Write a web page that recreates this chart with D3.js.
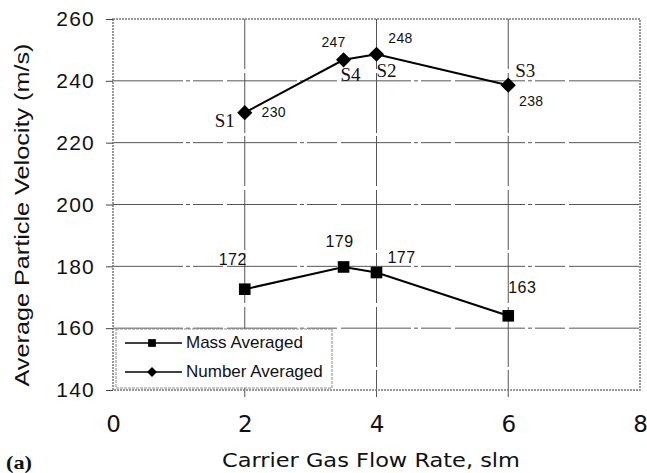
<!DOCTYPE html>
<html lang="en">
<head>
  <meta charset="UTF-8">
  <title>Average Particle Velocity</title>
  <script src="https://d3js.org/d3.v7.min.js"></script>
  <style>
    html, body {
      margin: 0;
      padding: 0;
      background: #fff;
      overflow: hidden;
    }
    svg {
      display: block;
    }
  </style>
</head>
<body>
<svg id="chart" width="647" height="473"></svg>

<script>
  // data
  const flowRates = [2, 3.5, 4, 6];
  const massAveraged = [172.6, 179.8, 178, 164];
  const massLabels = ["172", "179", "177", "163"];
  const numberAveraged = [229.7, 246.8, 248.6, 238.6];
  const numberLabels = ["230", "247", "248", "238"];
  const sampleNames = ["S1", "S4", "S2", "S3"];
  const xTicks = [0, 2, 4, 6, 8];
  const yTicks = [140, 160, 180, 200, 220, 240, 260];

  const svg = d3.select("#chart");
  const plotLeft = 113, plotRight = 640, plotTop = 19, plotBottom = 390;

  const x = d3.scaleLinear().domain([0, 8]).range([plotLeft, plotRight]);
  const y = d3.scaleLinear().domain([140, 260]).range([plotBottom, plotTop]);

  // grid (scanned look: broken lines)
  const grid = svg.append("g").attr("stroke", "#555").attr("stroke-width", 1);
  grid.selectAll("line.h")
          .data(yTicks.filter(d => d > 140 && d < 260))
          .join("line")
          .attr("x1", plotLeft).attr("x2", plotRight)
          .attr("y1", d => y(d)).attr("y2", d => y(d))
          .attr("stroke-dasharray", "70,3,4,3,30,4");
  grid.selectAll("line.v")
          .data(xTicks.filter(d => d > 0 && d < 8))
          .join("line")
          .attr("x1", d => x(d)).attr("x2", d => x(d))
          .attr("y1", plotTop).attr("y2", plotBottom + 7)
          .attr("stroke-dasharray", "50,4,60,3");

  // plot border
  svg.append("rect")
          .attr("x", plotLeft).attr("y", plotTop)
          .attr("width", plotRight - plotLeft).attr("height", plotBottom - plotTop)
          .attr("fill", "none")
          .attr("stroke", "#777")
          .attr("stroke-width", 1.5)
          .attr("stroke-dasharray", "2,1");

  // y axis
  const yAxis = svg.append("g")
          .attr("transform", `translate(${plotLeft},0)`)
          .call(d3.axisLeft(y).tickValues(yTicks).tickSize(7).tickPadding(11));
  yAxis.select(".domain").remove();
  yAxis.selectAll("line").attr("stroke", "#444");
  yAxis.selectAll("text")
          .attr("font-family", "Liberation Sans, Arial, sans-serif")
          .attr("font-size", 21)
          .attr("letter-spacing", 1.2)
          .attr("fill", "#111");

  // x axis
  const xAxis = svg.append("g")
          .attr("transform", `translate(0,${plotBottom})`)
          .call(d3.axisBottom(x).tickValues(xTicks).tickSize(0).tickPadding(26));
  xAxis.select(".domain").remove();
  xAxis.selectAll("text")
          .attr("font-family", "DejaVu Sans, Verdana, sans-serif")
          .attr("font-size", 23)
          .attr("fill", "#111");

  // axis titles
  svg.append("text")
          .attr("x", 371).attr("y", 467)
          .attr("text-anchor", "middle")
          .attr("font-family", "DejaVu Sans, Verdana, sans-serif")
          .attr("font-size", 19)
          .attr("textLength", 298)
          .attr("lengthAdjust", "spacingAndGlyphs")
          .attr("fill", "#111")
          .text("Carrier Gas Flow Rate, slm");

  svg.append("text")
          .attr("transform", "translate(29,215) rotate(-90)")
          .attr("text-anchor", "middle")
          .attr("font-family", "Liberation Sans, Arial, sans-serif")
          .attr("font-size", 21)
          .attr("textLength", 343)
          .attr("lengthAdjust", "spacingAndGlyphs")
          .attr("fill", "#111")
          .text("Average Particle Velocity (m/s)");

  svg.append("text")
          .attr("x", 6).attr("y", 469)
          .attr("font-family", "Liberation Serif, Times New Roman, serif")
          .attr("font-weight", "bold")
          .attr("font-size", 19)
          .attr("textLength", 26)
          .attr("lengthAdjust", "spacingAndGlyphs")
          .attr("fill", "#111")
          .text("(a)");

  const line = d3.line()
          .x(d => x(d[0]))
          .y(d => y(d[1]));

  const massPts = flowRates.map((f, i) => [f, massAveraged[i]]);
  const numPts = flowRates.map((f, i) => [f, numberAveraged[i]]);

  svg.append("path")
          .datum(massPts)
          .attr("d", line)
          .attr("fill", "none")
          .attr("stroke", "#000")
          .attr("stroke-width", 2);
  svg.append("path")
          .datum(numPts)
          .attr("d", line)
          .attr("fill", "none")
          .attr("stroke", "#000")
          .attr("stroke-width", 2);

  const square = d3.symbol().type(d3.symbolSquare);

  svg.selectAll("path.mass")
          .data(massPts)
          .join("path")
          .attr("class", "mass")
          .attr("transform", d => `translate(${x(d[0])},${y(d[1])})`)
          .attr("d", square.size(135)())
          .attr("fill", "#000");
  svg.selectAll("path.num")
          .data(numPts)
          .join("path")
          .attr("class", "num")
          .attr("transform", d => `translate(${x(d[0])},${y(d[1])}) rotate(45)`)
          .attr("d", square.size(115)())
          .attr("fill", "#000");

  // value labels (offsets from each point)
  const massOffsets = [[-12, -24], [-4, -20], [25, -10], [14, -23]];
  const numOffsets = [[29, 4], [-10, -13], [24, -11], [23, 21]];
  const nameOffsets = [[-20, 14], [7, 21], [10, 23], [17, -8]];

  svg.selectAll("text.mlab")
          .data(massPts)
          .join("text")
          .attr("class", "mlab")
          .attr("x", (d, i) => x(d[0]) + massOffsets[i][0])
          .attr("y", (d, i) => y(d[1]) + massOffsets[i][1])
          .attr("text-anchor", "middle")
          .attr("font-family", "Liberation Sans, Arial, sans-serif")
          .attr("font-size", 16)
          .attr("letter-spacing", 0.5)
          .attr("fill", "#111")
          .text((d, i) => massLabels[i]);

  svg.selectAll("text.nlab")
          .data(numPts)
          .join("text")
          .attr("class", "nlab")
          .attr("x", (d, i) => x(d[0]) + numOffsets[i][0])
          .attr("y", (d, i) => y(d[1]) + numOffsets[i][1])
          .attr("text-anchor", "middle")
          .attr("font-family", "Liberation Sans, Arial, sans-serif")
          .attr("font-size", 14)
          .attr("letter-spacing", 0.3)
          .attr("fill", "#111")
          .text((d, i) => numberLabels[i]);

  svg.selectAll("text.sname")
          .data(numPts)
          .join("text")
          .attr("class", "sname")
          .attr("x", (d, i) => x(d[0]) + nameOffsets[i][0])
          .attr("y", (d, i) => y(d[1]) + nameOffsets[i][1])
          .attr("text-anchor", "middle")
          .attr("font-family", "Liberation Serif, Times New Roman, serif")
          .attr("font-size", 19)
          .attr("fill", "#111")
          .text((d, i) => sampleNames[i]);

  // legend
  const legend = svg.append("g");
  legend.append("rect")
          .attr("x", 116).attr("y", 329)
          .attr("width", 216).attr("height", 59)
          .attr("fill", "#fff")
          .attr("stroke", "#888")
          .attr("stroke-width", 1)
          .attr("stroke-dasharray", "3,1");

  const legendItems = [
    {name: "Mass Averaged", size: 60, rot: 0, y: 343},
    {name: "Number Averaged", size: 50, rot: 45, y: 372}
  ];
  legendItems.forEach(it => {
    legend.append("line")
            .attr("x1", 125).attr("x2", 182)
            .attr("y1", it.y).attr("y2", it.y)
            .attr("stroke", "#000").attr("stroke-width", 1.5);
    legend.append("path")
            .attr("transform", `translate(152,${it.y}) rotate(${it.rot})`)
            .attr("d", square.size(it.size)())
            .attr("fill", "#000");
    legend.append("text")
            .attr("x", 186).attr("y", it.y + 5)
            .attr("font-family", "Liberation Sans, Arial, sans-serif")
            .attr("font-size", 17)
            .attr("fill", "#111")
            .text(it.name);
  });
</script>
</body>
</html>
